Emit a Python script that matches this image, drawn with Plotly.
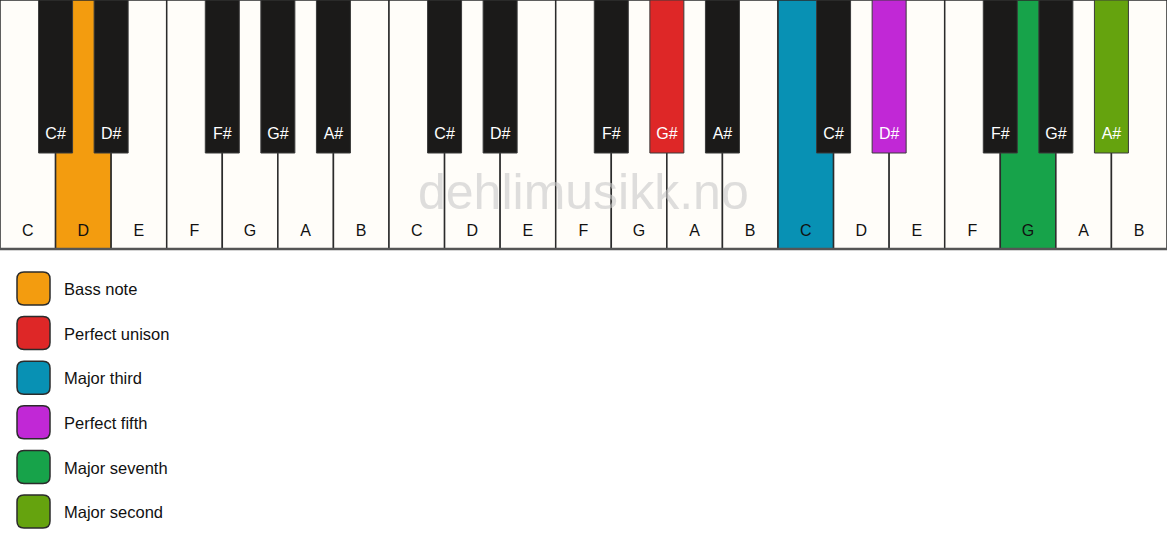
import plotly.graph_objects as go

# three octaves of white keys, left to right
white_notes = ["C", "D", "E", "F", "G", "A", "B"] * 3
# black keys per octave and the white-key boundary they sit on
black_notes = ["C#", "D#", "F#", "G#", "A#"]
black_slots = [1, 2, 4, 5, 6]
octaves = 3

# highlighted keys: (octave, note) -> colour
marked_keys = [(0, "D"), (1, "G#"), (2, "C"), (2, "D#"), (2, "G"), (2, "A#")]
marked_colors = ["#F39C0F", "#DE2727", "#0891B4", "#C128D6", "#17A34A", "#65A30E"]

legend_labels = ["Bass note", "Perfect unison", "Major third",
                 "Perfect fifth", "Major seventh", "Major second"]

W, H = 1167, 550
key_w = W / len(white_notes)
white_h = 249
black_w = 34
black_h = 153
ivory = "#FFFDF9"

marks = {k: c for k, c in zip(marked_keys, marked_colors)}

fig = go.Figure()
shapes = []

# white keys
wx, wlab = [], []
for i, n in enumerate(white_notes):
    octv = i // 7
    fill = marks.get((octv, n), ivory)
    shapes.append(dict(type="rect", x0=i * key_w, x1=(i + 1) * key_w, y0=0, y1=white_h,
                       fillcolor=fill, line=dict(color="#2b2b2b", width=1.5), layer="below"))
    wx.append((i + 0.5) * key_w)
    wlab.append(n)

# bottom edge
shapes.append(dict(type="line", x0=0, x1=W, y0=white_h, y1=white_h,
                   line=dict(color="#555555", width=2.5), layer="below"))

# black keys
bx, blab = [], []
for o in range(octaves):
    for n, s in zip(black_notes, black_slots):
        cx = (o * 7 + s) * key_w
        fill = marks.get((o, n), "#1b1a19")
        shapes.append(dict(type="rect", x0=cx - black_w / 2, x1=cx + black_w / 2, y0=0, y1=black_h,
                           fillcolor=fill, line=dict(color="#3a3a3a", width=1), layer="below"))
        bx.append(cx)
        blab.append(n)

fig.add_trace(go.Scatter(x=wx, y=[232] * len(wx), text=wlab, mode="text",
                         textfont=dict(family="Liberation Sans, Arial", size=16, color="#111111"),
                         hoverinfo="skip"))
fig.add_trace(go.Scatter(x=bx, y=[135] * len(bx), text=blab, mode="text",
                         textfont=dict(family="Liberation Sans, Arial", size=16, color="#ffffff"),
                         hoverinfo="skip"))

# legend swatches with rounded corners
r = 7
lx0, lx1 = 17, 50
ly, lgap, ls = 272, 44.6, 33
for j, (lab, col) in enumerate(zip(legend_labels, marked_colors)):
    y0 = ly + j * lgap
    y1 = y0 + ls
    path = (f"M {lx0 + r},{y0} L {lx1 - r},{y0} Q {lx1},{y0} {lx1},{y0 + r} "
            f"L {lx1},{y1 - r} Q {lx1},{y1} {lx1 - r},{y1} L {lx0 + r},{y1} "
            f"Q {lx0},{y1} {lx0},{y1 - r} L {lx0},{y0 + r} Q {lx0},{y0} {lx0 + r},{y0} Z")
    shapes.append(dict(type="path", path=path, fillcolor=col,
                       line=dict(color="#2b2b2b", width=1.5), layer="below"))

fig.add_trace(go.Scatter(x=[64] * len(legend_labels),
                         y=[ly + j * lgap + ls / 2 + 2.5 for j in range(len(legend_labels))],
                         text=legend_labels, mode="text", textposition="middle right",
                         textfont=dict(family="Liberation Sans, Arial", size=16.5, color="#111111"),
                         hoverinfo="skip"))

fig.add_annotation(x=583, y=192, text="dehlimusikk.no", showarrow=False,
                   font=dict(family="Liberation Sans, Arial", size=50, color="rgba(200,200,200,0.6)"))

fig.update_layout(
    width=W, height=H, margin=dict(l=0, r=0, t=0, b=0),
    paper_bgcolor="white", plot_bgcolor="white", showlegend=False,
    shapes=shapes,
    xaxis=dict(range=[0, W], visible=False, fixedrange=True),
    yaxis=dict(range=[H, 0], visible=False, fixedrange=True),
)

fig.write_html("out.html", config={"displayModeBar": False},
               post_script="document.body.style.margin='0';document.body.style.overflow='hidden';")
